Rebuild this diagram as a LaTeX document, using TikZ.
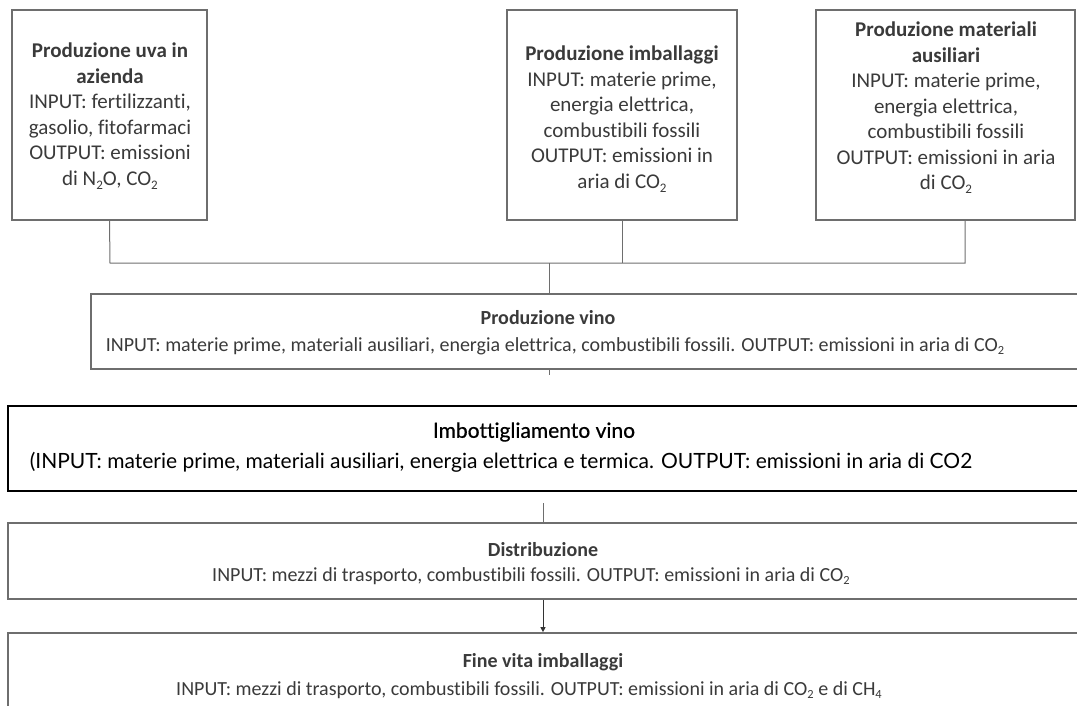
\documentclass[tikz,border=0pt]{standalone}
\usepackage{graphicx}
\usepackage{fontspec}
\setmainfont{Carlito}[Ligatures={NoCommon}]
\newfontfamily\avfont{Lato}[Ligatures={NoCommon}]
\usetikzlibrary{arrows.meta}
\definecolor{linegray}{HTML}{6E6E6E}
\definecolor{txtgray}{HTML}{3A3A3A}
\newcommand\sbs[1]{\raisebox{-0.4ex}{\scalebox{0.62}{#1}}}
\begin{document}
\begin{tikzpicture}[x=1pt,y=-1pt,
  box/.style={draw=linegray,line width=1.3pt,inner sep=0pt},
  wide/.style={draw=linegray,line width=1.7pt,inner sep=0pt},
  blackbox/.style={draw=black,line width=2pt,inner sep=0pt},
  conn/.style={draw=linegray,line width=1pt},
  toptxt/.style={align=center,text=txtgray,inner sep=0pt,font=\fontsize{21}{25.5}\selectfont},
  rowtxt/.style={text=txtgray,inner sep=0pt,font=\fontsize{20}{24}\selectfont},
  avtxt/.style={text=black,inner sep=0pt,font=\avfont\fontsize{21}{25}\selectfont}]
\path[use as bounding box] (0,0) rectangle (1077,706);
\clip (0,0) rectangle (1077,706);
% top boxes
\node[box,minimum width=195pt,minimum height=210pt] (b1) at (109.5,115) {};
\node[box,minimum width=230pt,minimum height=210pt] (b2) at (622,115) {};
\node[box,minimum width=259pt,minimum height=210pt] (b3) at (945.5,115) {};
\node[toptxt] (t1) at (110,116) {\textbf{Produzione uva in}\\\textbf{azienda}\\INPUT: fertilizzanti,\\gasolio, fitofarmaci\\OUTPUT: emissioni\\di N\sbs{2}O, CO\sbs{2}};
\node[toptxt] (t2) at (622,119) {\textbf{Produzione imballaggi}\\INPUT: materie prime,\\energia elettrica,\\combustibili fossili\\OUTPUT: emissioni in\\aria di CO\sbs{2}};
\node[toptxt] (t3) at (946,108) {\textbf{Produzione materiali}\\\textbf{ausiliari}\\INPUT: materie prime,\\energia elettrica,\\combustibili fossili\\OUTPUT: emissioni in aria\\di CO\sbs{2}};
% row boxes
\node[wide,minimum width=1000pt,minimum height=75pt] (pv) at (591,331.5) {};
\node[blackbox,minimum width=1080pt,minimum height=85pt] (iv) at (548,448.5) {};
\node[wide,minimum width=1080pt,minimum height=76pt] (di) at (548,561) {};
\node[wide,minimum width=1080pt,minimum height=120pt] (fv) at (548,693) {};
% row texts
\node[rowtxt] (pvT) at (548,318) {\textbf{Produzione vino}};
\node[rowtxt] (pvB) at (555,346) {INPUT: materie prime, materiali ausiliari, energia elettrica, combustibili fossili. OUTPUT: emissioni in aria di CO\sbs{2}};
\node[avtxt] (ivT) at (534,432) {\addfontfeature{FakeBold=0.6}Imbottigliamento vino};
\node[avtxt] (ivB) at (501,462) {(INPUT: materie prime, materiali ausiliari, energia elettrica e termica. OUTPUT: emissioni in aria di CO2};
\node[rowtxt] (diT) at (543,550) {\textbf{Distribuzione}};
\node[rowtxt] (diB) at (531,576) {INPUT: mezzi di trasporto, combustibili fossili. OUTPUT: emissioni in aria di CO\sbs{2}};
\node[rowtxt] (fvT) at (543,662) {\textbf{Fine vita imballaggi}};
\node[rowtxt] (fvB) at (529,690) {INPUT: mezzi di trasporto, combustibili fossili. OUTPUT: emissioni in aria di CO\sbs{2} e di CH\sbs{4}};
% connectors
\coordinate (hL) at (110,263);
\coordinate (hM) at (549,263);
\coordinate (hR) at (965,263);
\coordinate (tk) at (549,375);
\coordinate (ta) at (543,503);
\coordinate (ax) at (543,599);
\draw[conn] (b1.south) -- (hL) -- (hR) -- (hR |- b3.south);
\draw[conn] (b2.south) -- (b2.south |- hL);
\draw[conn] (hM) -- (hM |- pv.north);
\draw[conn] (hM |- pv.south) -- (tk);
\draw[conn] (ta) -- (ta |- di.north);
\draw[conn,draw=black!80,-{Triangle[length=5pt,width=5pt]}] (ax |- di.south) -- (ax |- fv.north);
\end{tikzpicture}
\end{document}
